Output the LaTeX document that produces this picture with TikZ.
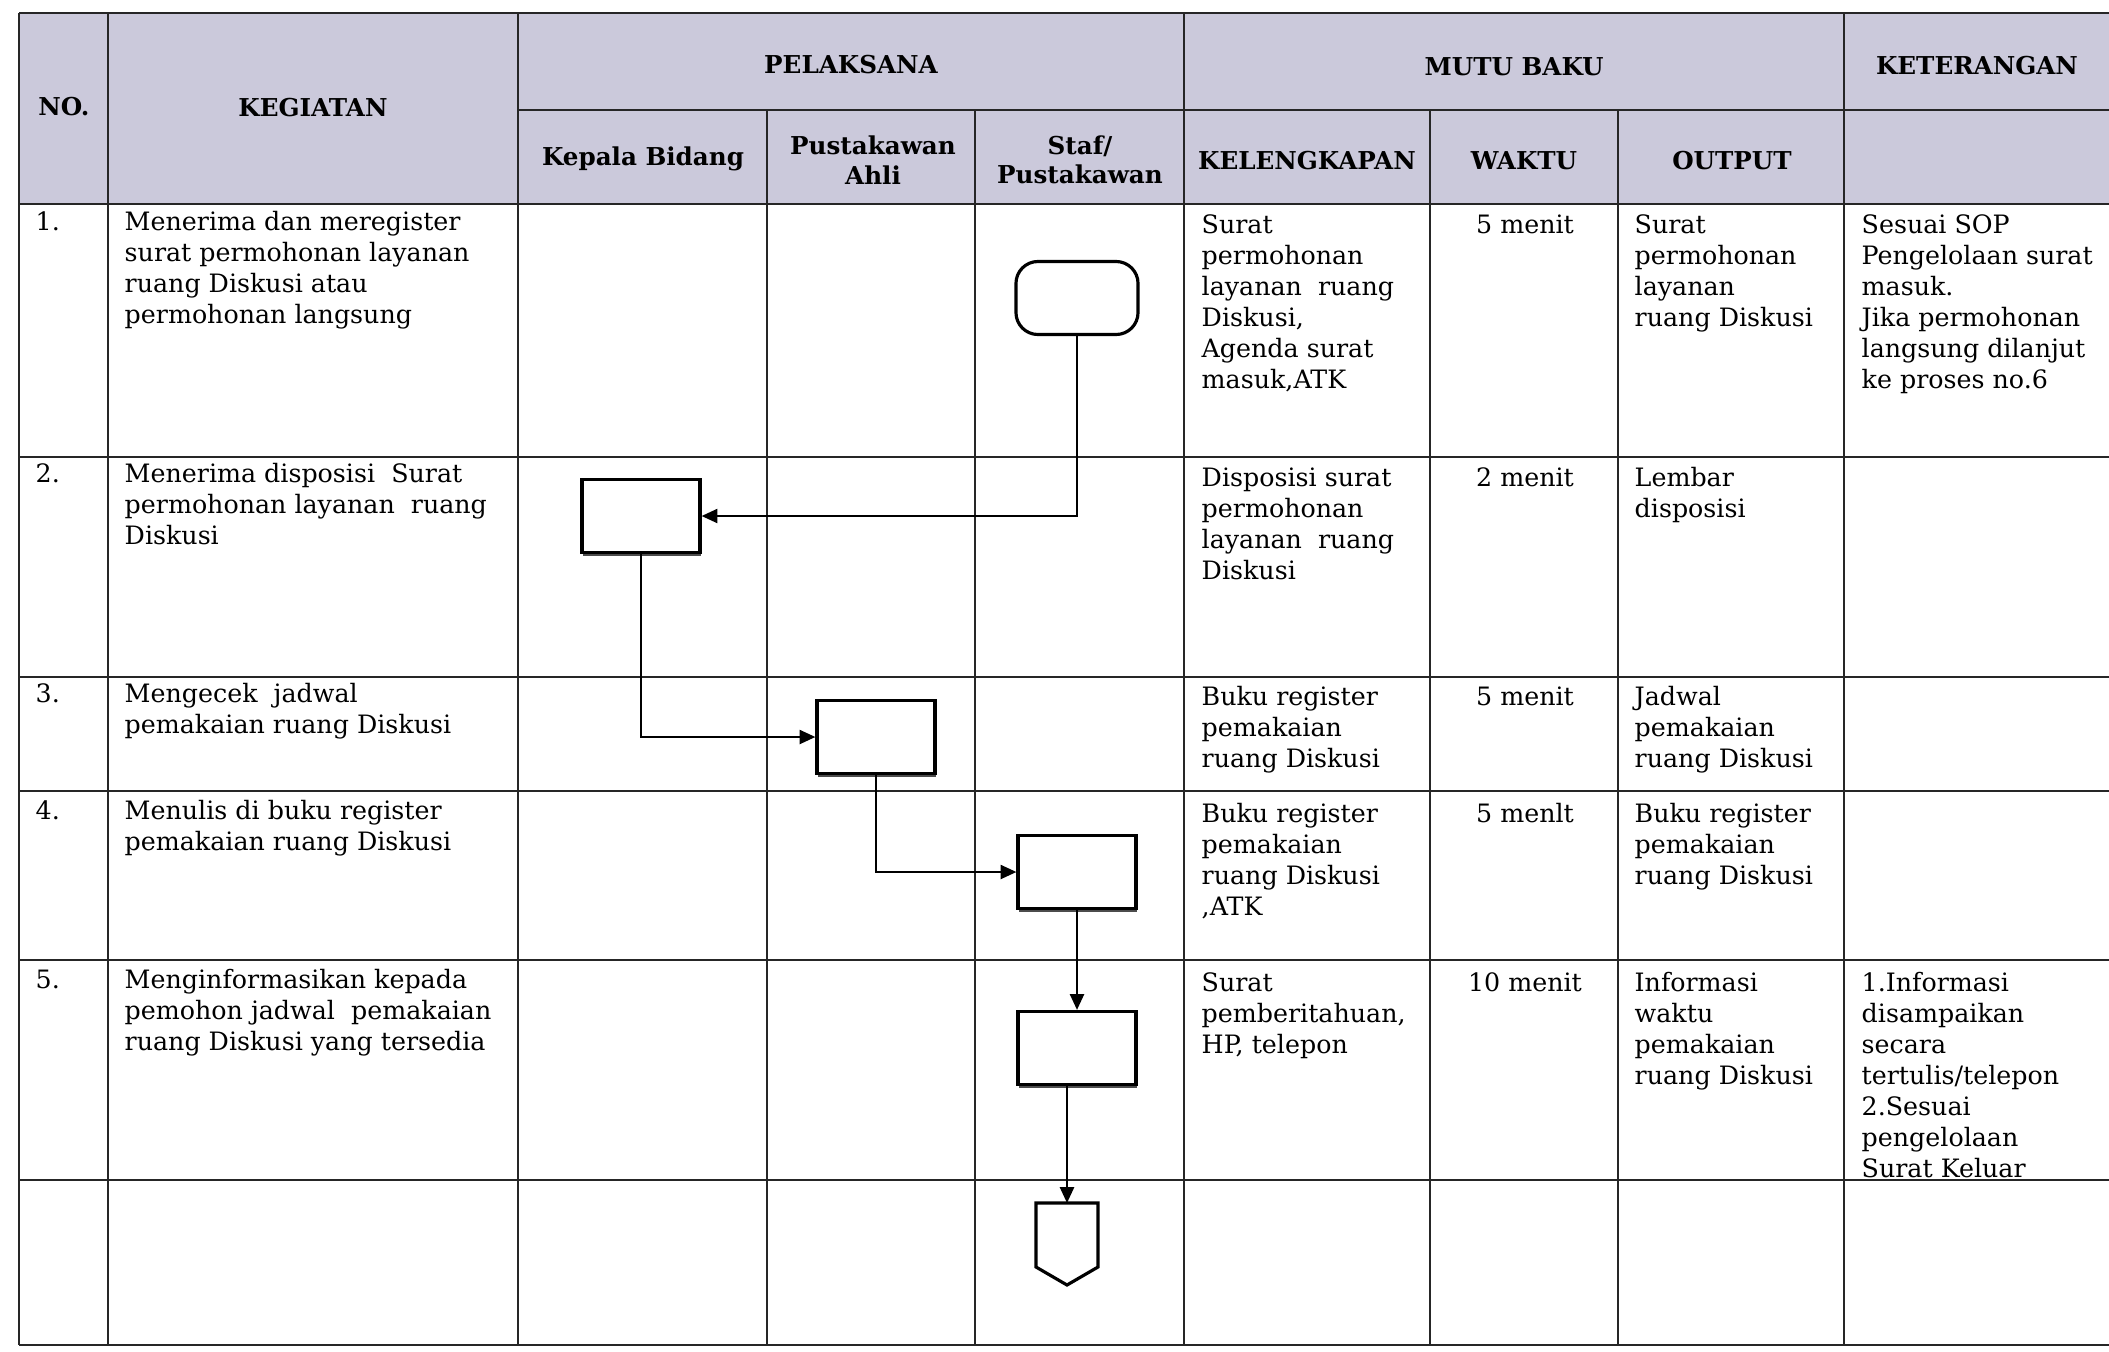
\documentclass[tikz,border=0pt]{standalone}
\usepackage{fontspec}
\setmainfont{DejaVu Serif}
\usetikzlibrary{arrows.meta,shadows}

\definecolor{kepala}{RGB}{203,201,219}

\tikzset{
  garis/.style={line width=0.5pt, draw=black!85},
  judul/.style={font=\bfseries\fontsize{7}{8.4}\selectfont, align=center, inner sep=0pt},
  isi/.style={anchor=north west, align=left, inner sep=0pt, font=\fontsize{7.2}{8.8}\selectfont},
  waktu/.style={anchor=base, align=center, inner sep=0pt, font=\fontsize{7.2}{8.8}\selectfont},
  proses/.style={draw, fill=white, line width=0.9pt, minimum width=1.18cm, minimum height=0.73cm, inner sep=0pt,
    drop shadow={shadow xshift=0.3pt, shadow yshift=-1.1pt, fill=black!70, opacity=1}},
  mulai/.style={draw, fill=white, line width=0.9pt, rounded corners=0.22cm, minimum width=1.22cm, minimum height=0.73cm},
  arus/.style={-{Triangle[length=4.5pt,width=4pt]}, line width=0.6pt},
}

\begin{document}
\begin{tikzpicture}[x=0.01cm, y=-0.01cm]
    \useasboundingbox (0,0) rectangle (2109,1351);
    % kepala tabel
    \fill[kepala] (19,13) rectangle (2109,204);
    \draw[garis] (19,13) -- (2109,13);
    \draw[garis] (518,110) -- (2109,110);
    \draw[garis] (19,204) -- (2109,204);
    \draw[garis] (19,457) -- (2109,457);
    \draw[garis] (19,677) -- (2109,677);
    \draw[garis] (19,791) -- (2109,791);
    \draw[garis] (19,960) -- (2109,960);
    \draw[garis] (19,1180) -- (2109,1180);
    \draw[garis] (19,1345) -- (2109,1345);
    \draw[garis] (19,13) -- (19,1345);
    \draw[garis] (108,13) -- (108,1345);
    \draw[garis] (518,13) -- (518,1345);
    \draw[garis] (767,110) -- (767,1345);
    \draw[garis] (975,110) -- (975,1345);
    \draw[garis] (1184,13) -- (1184,1345);
    \draw[garis] (1430,110) -- (1430,1345);
    \draw[garis] (1618,110) -- (1618,1345);
    \draw[garis] (1844,13) -- (1844,1345);

    \node[judul] (hno) at (64,107) {NO.};
    \node[judul] (hkeg) at (313,108) {KEGIATAN};
    \node[judul] (hpel) at (851,65) {PELAKSANA};
    \node[judul] (hmutu) at (1514,67) {MUTU BAKU};
    \node[judul] (hket) at (1977,66) {KETERANGAN};
    \node[judul] (hkabid) at (643,159) {Kepala Bidang};
    \node[judul] (hahli) at (873,160) {Pustakawan\\Ahli};
    \node[judul] (hstaf) at (1080,160) {Staf/\\Pustakawan};
    \node[judul] (hkel) at (1307,161) {KELENGKAPAN};
    \node[judul] (hwaktu) at (1524,161) {WAKTU};
    \node[judul] (hout) at (1732,161) {OUTPUT};

    % baris 1
    \node[isi] (no1) at (35,211) {1.};
    \node[isi] (keg1) at (124,211) {Menerima dan meregister\\surat permohonan layanan\\ruang Diskusi atau\\permohonan langsung};
    \node[isi] (kel1) at (1201,214) {Surat\\permohonan\\layanan\ \ ruang\\Diskusi,\\Agenda surat\\masuk,ATK};
    \node[waktu] (wkt1) at (1525,233) {5 menit};
    \node[isi] (out1) at (1634,214) {Surat\\permohonan\\layanan\\ruang Diskusi};
    \node[isi] (ket1) at (1861,214) {Sesuai SOP\\Pengelolaan surat\\masuk.\\Jika permohonan\\langsung dilanjut\\ke proses no.6};
    % baris 2
    \node[isi] (no2) at (35,463) {2.};
    \node[isi] (keg2) at (124,463) {Menerima disposisi\ \ Surat\\permohonan layanan\ \ ruang\\Diskusi};
    \node[isi] (kel2) at (1201,467) {Disposisi surat\\permohonan\\layanan\ \ ruang\\Diskusi};
    \node[waktu] (wkt2) at (1525,486) {2 menit};
    \node[isi] (out2) at (1634,467) {Lembar\\disposisi};
    % baris 3
    \node[isi] (no3) at (35,683) {3.};
    \node[isi] (keg3) at (124,683) {Mengecek\ \ jadwal\\pemakaian ruang Diskusi};
    \node[isi] (kel3) at (1201,686) {Buku register\\pemakaian\\ruang Diskusi};
    \node[waktu] (wkt3) at (1525,705) {5 menit};
    \node[isi] (out3) at (1634,686) {Jadwal\\pemakaian\\ruang Diskusi};
    % baris 4
    \node[isi] (no4) at (35,800) {4.};
    \node[isi] (keg4) at (124,800) {Menulis di buku register\\pemakaian ruang Diskusi};
    \node[isi] (kel4) at (1201,803) {Buku register\\pemakaian\\ruang Diskusi\\,ATK};
    \node[waktu] (wkt4) at (1525,822) {5 menlt};
    \node[isi] (out4) at (1634,803) {Buku register\\pemakaian\\ruang Diskusi};
    % baris 5
    \node[isi] (no5) at (35,969) {5.};
    \node[isi] (keg5) at (124,969) {Menginformasikan kepada\\pemohon jadwal\ \ pemakaian\\ruang Diskusi yang tersedia};
    \node[isi] (kel5) at (1201,972) {Surat\\pemberitahuan,\\HP, telepon};
    \node[waktu] (wkt5) at (1525,991) {10 menit};
    \node[isi] (out5) at (1634,972) {Informasi\\waktu\\pemakaian\\ruang Diskusi};
    \node[isi] (ket5) at (1861,972) {1.Informasi\\disampaikan\\secara\\tertulis/telepon\\2.Sesuai\\pengelolaan\\Surat Keluar};

    % bagan alir
    \node[mulai] (mulai) at (1077,298) {};
    \node[proses] (terima) at (641,516) {};
    \node[proses] (cek) at (876,737) {};
    \node[proses] (tulis) at (1077,872) {};
    \node[proses] (info) at (1077,1048) {};
    \draw[line width=0.9pt, fill=white] (1036,1203) -- (1098,1203) -- (1098,1267) -- (1067,1285) -- (1036,1267) -- cycle;
    \coordinate (selesai) at (1067,1203);

    \draw[arus] (mulai.south) |- (terima.east);
    \draw[arus] (terima.south) |- (cek.west);
    \draw[arus] (cek.south) |- (tulis.west);
    \draw[arus] (tulis.south) -- (info.north);
    \draw[arus] (info.south -| selesai) -- (selesai);
\end{tikzpicture}
\end{document}
